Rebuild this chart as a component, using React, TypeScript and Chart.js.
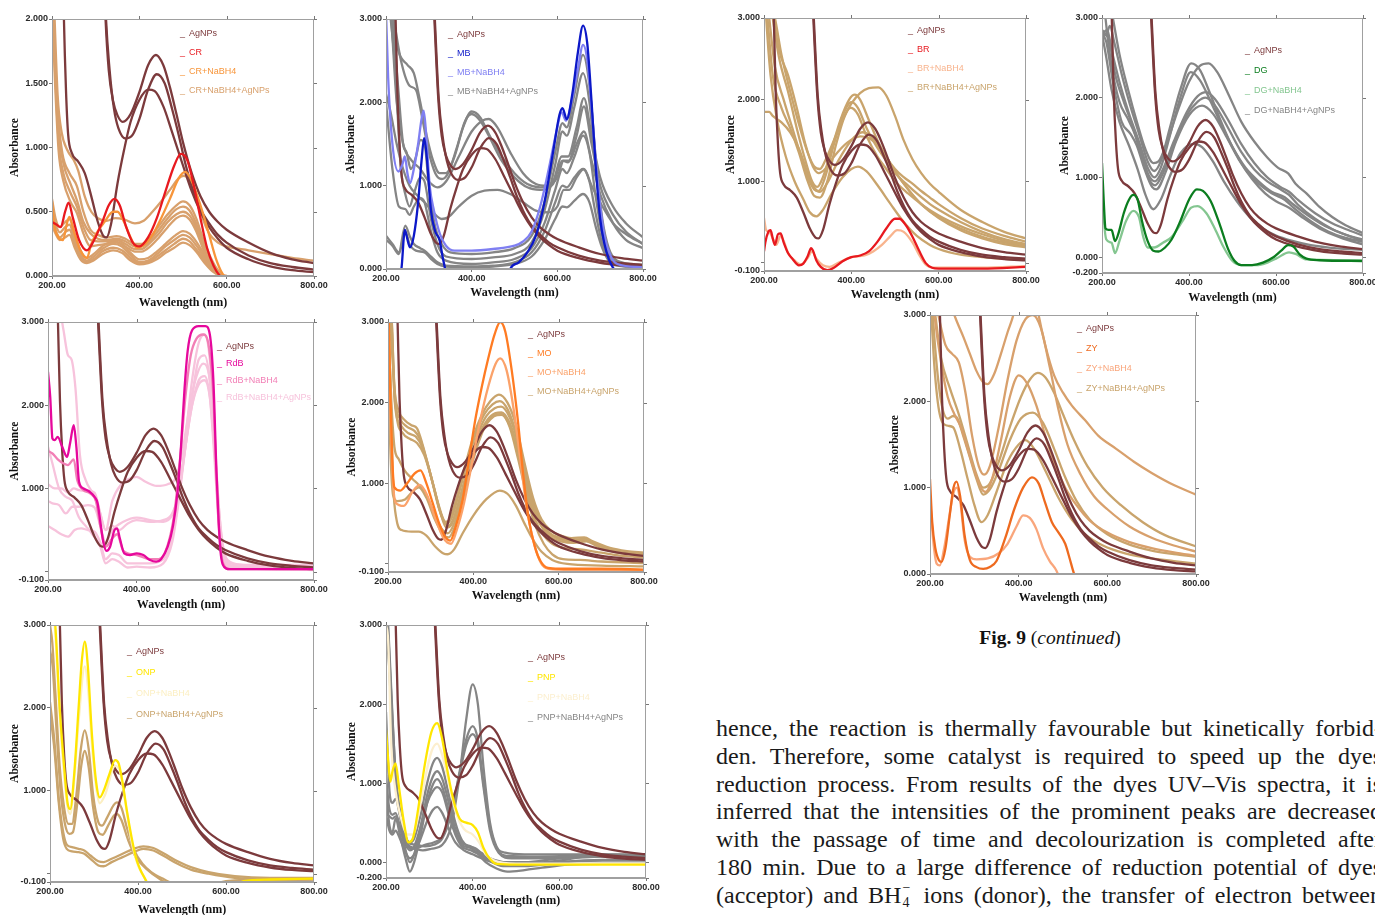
import React, { useEffect, useRef } from "react";
import { Chart, registerables } from "chart.js";

Chart.register(...registerables);

type Pt = [number, number];

const X_TICKS = [200, 400, 600, 800];

// ---------- AgNPs spectra (same three curves in every panel) ----------
const AGNP_1: Pt[] = [[305,4],[313,3],[322,2.05],[330,1.6],[340,1.36],[350,1.25],[362,1.2],[380,1.26],[400,1.43],[420,1.64],[438,1.72],[455,1.64],[470,1.47],[485,1.26],[500,1.04],[520,0.8],[540,0.62],[560,0.5],[580,0.42],[600,0.36],[650,0.26],[700,0.18],[750,0.13],[800,0.1]];
const AGNP_2: Pt[] = [[305,4],[314,3],[323,2.05],[332,1.6],[342,1.3],[352,1.15],[368,1.07],[385,1.1],[400,1.22],[420,1.45],[440,1.57],[458,1.5],[475,1.3],[490,1.1],[505,0.88],[520,0.7],[540,0.52],[560,0.41],[580,0.32],[600,0.26],[650,0.16],[700,0.1],[750,0.07],[800,0.05]];
const AGNP_3: Pt[] = [[200,4.5],[215,4.2],[222,3.1],[227,2.05],[232,1.45],[237,1.1],[245,0.96],[260,0.89],[275,0.8],[290,0.62],[305,0.42],[318,0.31],[325,0.3],[335,0.4],[350,0.72],[365,0.98],[380,1.2],[400,1.37],[420,1.45],[435,1.44],[455,1.32],[475,1.12],[500,0.86],[520,0.66],[540,0.5],[560,0.38],[580,0.29],[600,0.22],[650,0.13],[700,0.075],[750,0.045],[800,0.03]];

// ---------- CR ----------
const CR_DYE: Pt[] = [[200,0.42],[210,0.4],[220,0.38],[230,0.5],[238,0.57],[248,0.45],[262,0.28],[280,0.2],[295,0.27],[315,0.42],[330,0.55],[343,0.6],[355,0.55],[370,0.38],[385,0.26],[400,0.23],[420,0.3],[440,0.45],[460,0.66],[480,0.86],[495,0.95],[510,0.9],[525,0.7],[540,0.45],[555,0.22],[570,0.08],[585,0.0],[600,-0.02],[800,-0.02]];
const CR_NABH4: Pt[] = [[200,0.58],[205,0.4],[215,0.3],[225,0.28],[235,0.42],[240,0.46],[250,0.35],[265,0.2],[280,0.14],[290,0.25],[305,0.35],[320,0.42],[340,0.5],[350,0.5],[365,0.42],[380,0.3],[395,0.22],[410,0.24],[430,0.32],[450,0.45],[470,0.6],[490,0.76],[505,0.81],[520,0.74],[540,0.55],[560,0.32],[575,0.14],[590,0.02],[600,-0.02],[800,-0.02]];
const CR_MIX_1: Pt[] = [[200,2.6],[206,2.0],[213,1.4],[222,1.12],[235,0.98],[250,0.9],[260,0.82],[275,0.62],[290,0.5],[305,0.45],[325,0.43],[345,0.45],[365,0.44],[390,0.41],[410,0.43],[430,0.5],[450,0.58],[470,0.67],[490,0.76],[502,0.78],[515,0.75],[530,0.62],[545,0.45],[560,0.33],[580,0.26],[600,0.23],[650,0.2],[700,0.17],[750,0.14],[800,0.12]];
const CR_MIX_2: Pt[] = [[200,2.4],[206,1.8],[214,1.25],[224,0.95],[240,0.8],[257,0.7],[272,0.5],[288,0.36],[305,0.32],[325,0.3],[348,0.31],[368,0.29],[390,0.25],[405,0.25],[425,0.3],[445,0.39],[465,0.48],[485,0.55],[500,0.58],[515,0.55],[530,0.45],[545,0.3],[560,0.17],[575,0.07],[590,0.01],[610,-0.01],[800,-0.01]];
const CR_MIX_3: Pt[] = [[200,2.3],[207,1.7],[215,1.15],[226,0.88],[242,0.72],[257,0.59],[272,0.42],[288,0.33],[305,0.29],[325,0.28],[348,0.29],[368,0.27],[390,0.23],[405,0.23],[425,0.28],[445,0.36],[465,0.45],[485,0.52],[500,0.54],[515,0.51],[530,0.41],[545,0.27],[560,0.15],[575,0.06],[590,0.0],[800,-0.01]];
const CR_MIX_4: Pt[] = [[200,2.2],[207,1.6],[215,1.05],[226,0.8],[242,0.65],[257,0.54],[272,0.38],[288,0.28],[305,0.27],[325,0.27],[348,0.28],[368,0.25],[390,0.21],[405,0.21],[425,0.26],[445,0.33],[465,0.42],[485,0.48],[500,0.5],[515,0.47],[530,0.38],[545,0.25],[560,0.13],[575,0.05],[590,0.0],[800,-0.01]];
const CR_MIX_5: Pt[] = [[200,2.1],[207,1.5],[215,0.98],[226,0.74],[242,0.58],[257,0.49],[272,0.33],[288,0.23],[305,0.24],[325,0.25],[348,0.26],[368,0.23],[390,0.19],[405,0.19],[425,0.23],[445,0.3],[465,0.38],[485,0.45],[500,0.47],[515,0.44],[530,0.35],[545,0.22],[560,0.11],[575,0.04],[590,0.0],[800,-0.01]];
const CR_MIX_6: Pt[] = [[200,0.6],[208,0.45],[218,0.38],[230,0.42],[240,0.44],[252,0.32],[265,0.2],[280,0.14],[295,0.17],[315,0.23],[340,0.27],[360,0.25],[380,0.18],[400,0.13],[420,0.14],[440,0.19],[460,0.25],[480,0.31],[500,0.35],[515,0.33],[530,0.27],[550,0.16],[570,0.06],[590,0.0],[800,-0.01]];
const CR_MIX_7: Pt[] = [[200,0.5],[208,0.4],[218,0.34],[230,0.38],[240,0.4],[252,0.28],[265,0.17],[280,0.12],[295,0.15],[315,0.21],[340,0.25],[360,0.23],[380,0.16],[400,0.11],[420,0.12],[440,0.17],[460,0.23],[480,0.28],[500,0.32],[515,0.3],[530,0.24],[550,0.14],[570,0.05],[590,0.0],[800,-0.01]];
const CR_MIX_8: Pt[] = [[200,0.45],[208,0.36],[218,0.3],[230,0.34],[240,0.36],[252,0.25],[265,0.15],[280,0.11],[295,0.13],[315,0.19],[340,0.22],[360,0.2],[380,0.14],[400,0.1],[420,0.11],[440,0.15],[460,0.2],[480,0.25],[500,0.29],[515,0.27],[530,0.21],[550,0.12],[570,0.04],[590,0.0],[800,-0.01]];
const CR_MIX_9: Pt[] = [[200,0.4],[208,0.33],[218,0.28],[230,0.3],[240,0.32],[252,0.22],[265,0.13],[280,0.1],[295,0.12],[315,0.17],[340,0.2],[360,0.18],[380,0.12],[400,0.09],[420,0.1],[440,0.13],[460,0.18],[480,0.22],[500,0.26],[515,0.24],[530,0.19],[550,0.1],[570,0.03],[590,0.0],[800,-0.01]];

// ---------- MB ----------
const MB_DYE: Pt[] = [[200,-0.5],[230,-0.1],[236,0.0],[244,0.47],[248,0.4],[256,0.26],[265,0.4],[275,0.8],[283,1.3],[289,1.57],[295,1.35],[305,0.7],[315,0.45],[325,0.35],[332,0.15],[338,0.0],[345,-0.2],[480,-0.2],[490,0.0],[510,0.08],[530,0.2],[550,0.4],[570,0.8],[590,1.4],[605,1.85],[612,1.93],[622,1.8],[635,2.1],[648,2.6],[660,2.92],[670,2.7],[680,2.0],[690,1.2],[700,0.6],[710,0.3],[720,0.12],[732,0.0],[745,-0.1],[800,-0.1]];
const MB_NABH4: Pt[] = [[200,3.1],[205,2.3],[215,1.5],[229,1.17],[238,1.25],[244,1.35],[250,1.15],[256,1.03],[265,1.2],[275,1.5],[283,1.8],[288,1.9],[294,1.6],[302,1.0],[312,0.7],[326,0.42],[340,0.28],[360,0.22],[400,0.22],[450,0.24],[500,0.28],[520,0.33],[540,0.45],[560,0.75],[580,1.2],[598,1.65],[610,1.88],[620,1.78],[635,2.05],[648,2.4],[660,2.69],[670,2.5],[682,1.8],[695,1.0],[710,0.4],[725,0.15],[740,0.06],[800,0.02]];
const MB_MIX_1: Pt[] = [[200,3.5],[215,3.0],[230,2.6],[250,2.45],[265,2.35],[280,2.0],[295,1.6],[310,1.3],[325,1.15],[340,1.15],[360,1.35],[380,1.7],[400,1.89],[420,1.82],[440,1.62],[470,1.35],[500,1.15],[530,1.02],[560,0.98],[590,1.05],[610,1.35],[625,1.35],[645,1.7],[662,2.05],[680,1.6],[700,1.1],[730,0.75],[760,0.55],[800,0.38]];
const MB_MIX_2: Pt[] = [[200,3.5],[218,3.0],[235,2.5],[255,2.2],[270,2.15],[285,1.8],[300,1.4],[315,1.15],[330,1.08],[345,1.15],[365,1.45],[385,1.78],[400,1.86],[420,1.78],[440,1.6],[470,1.3],[500,1.1],[530,0.98],[560,0.95],[590,1.02],[612,1.3],[625,1.28],[645,1.6],[662,1.95],[680,1.5],[700,1.0],[730,0.65],[760,0.45],[800,0.3]];
const MB_MIX_3: Pt[] = [[200,3.5],[212,3.0],[225,2.0],[240,1.5],[260,1.3],[280,1.2],[300,1.05],[320,0.98],[340,1.05],[370,1.35],[400,1.65],[425,1.78],[440,1.8],[460,1.7],[490,1.4],[520,1.15],[550,1.02],[575,1.0],[600,1.1],[615,1.3],[628,1.3],[645,1.5],[662,1.65],[680,1.3],[700,0.9],[730,0.55],[760,0.35],[800,0.25]];
const MB_MIX_4: Pt[] = [[200,2.1],[210,1.9],[225,1.5],[240,1.2],[255,1.0],[270,0.9],[290,0.8],[310,0.68],[330,0.6],[345,0.62],[370,0.75],[400,0.88],[430,0.94],[460,0.95],[490,0.9],[520,0.8],[550,0.7],[580,0.68],[600,0.75],[615,0.95],[628,0.95],[645,1.1],[662,1.2],[680,1.0],[700,0.8],[730,0.55],[760,0.42],[800,0.3]];
const MB_MIX_5: Pt[] = [[200,3.5],[215,3.0],[228,2.2],[240,1.5],[248,1.4],[258,1.2],[270,1.35],[280,1.55],[290,1.5],[300,1.0],[315,0.5],[330,0.3],[350,0.2],[400,0.18],[450,0.2],[500,0.25],[540,0.4],[570,0.8],[595,1.4],[612,1.75],[622,1.7],[640,2.1],[660,2.57],[675,2.2],[690,1.3],[705,0.6],[720,0.25],[740,0.1],[800,0.05]];
const MB_MIX_6: Pt[] = [[200,3.5],[220,2.5],[235,1.2],[245,0.9],[255,0.75],[265,0.9],[280,1.1],[290,1.05],[305,0.6],[320,0.3],[340,0.15],[400,0.12],[450,0.14],[500,0.18],[540,0.32],[570,0.7],[595,1.25],[612,1.65],[622,1.6],[640,1.95],[660,2.35],[675,2.0],[690,1.2],[705,0.55],[720,0.2],[740,0.08],[800,0.03]];
const MB_MIX_7: Pt[] = [[200,2.0],[215,1.2],[230,0.75],[245,0.72],[255,0.65],[265,0.75],[280,0.85],[290,0.8],[305,0.45],[320,0.2],[340,0.1],[400,0.06],[450,0.08],[500,0.12],[540,0.25],[570,0.55],[595,0.95],[612,1.2],[622,1.15],[640,1.35],[660,1.6],[675,1.4],[690,0.85],[705,0.4],[720,0.15],[740,0.06],[800,0.02]];
const MB_MIX_8: Pt[] = [[200,0.4],[215,0.3],[230,0.2],[245,0.52],[255,0.4],[265,0.3],[280,0.25],[290,0.22],[305,0.15],[320,0.08],[340,0.04],[400,0.03],[450,0.04],[500,0.08],[540,0.2],[570,0.45],[595,0.8],[612,1.0],[622,0.98],[640,1.1],[660,1.2],[675,1.05],[690,0.65],[705,0.3],[720,0.12],[740,0.05],[800,0.02]];
const MB_MIX_9: Pt[] = [[200,0.35],[215,0.28],[230,0.18],[245,0.45],[255,0.3],[270,0.22],[290,0.2],[305,0.12],[320,0.06],[340,0.03],[400,0.02],[450,0.03],[500,0.06],[540,0.15],[570,0.35],[595,0.6],[612,0.75],[622,0.74],[640,0.82],[660,0.9],[675,0.8],[690,0.5],[705,0.25],[720,0.1],[740,0.04],[800,0.02]];

// ---------- BR ----------
const BR_DYE: Pt[] = [[200,0.14],[203,0.25],[210,0.38],[215,0.4],[220,0.3],[225,0.22],[232,0.35],[238,0.36],[245,0.25],[255,0.12],[265,0.05],[280,-0.03],[290,-0.01],[300,0.08],[308,0.18],[312,0.15],[320,0.03],[330,-0.05],[345,-0.09],[360,-0.06],[380,0.02],[400,0.07],[420,0.09],[440,0.14],[460,0.26],[480,0.42],[500,0.54],[510,0.54],[525,0.46],[540,0.32],[555,0.15],[570,0.0],[585,-0.06],[600,-0.07],[700,-0.07],[800,-0.05]];
const BR_NABH4: Pt[] = [[200,0.55],[205,0.4],[212,0.38],[220,0.3],[228,0.22],[238,0.33],[245,0.27],[255,0.12],[270,0.03],[285,-0.02],[300,0.06],[310,0.14],[320,0.05],[335,-0.03],[350,-0.05],[370,0.0],[400,0.07],[430,0.09],[450,0.14],[470,0.22],[490,0.33],[505,0.4],[520,0.38],[540,0.25],[555,0.1],[570,-0.02],[590,-0.06],[700,-0.06],[800,-0.04]];
const BR_MIX_1: Pt[] = [[200,4],[215,3.2],[225,3.0],[240,2.55],[260,2.1],[280,1.7],[300,1.35],[315,1.18],[328,1.15],[340,1.25],[360,1.5],[380,1.75],[400,1.95],[420,2.08],[440,2.14],[462,2.15],[480,2.05],[500,1.8],[520,1.5],[540,1.27],[560,1.1],[580,0.97],[600,0.87],[650,0.65],[700,0.5],[750,0.38],[800,0.3]];
const BR_MIX_2: Pt[] = [[200,4],[210,3.4],[220,3.0],[235,2.5],[255,2.1],[275,1.65],[295,1.25],[310,1.0],[322,0.93],[335,1.05],[355,1.4],[375,1.75],[395,2.0],[408,2.06],[420,2.0],[440,1.75],[460,1.5],[480,1.3],[500,1.15],[520,1.05],[540,0.97],[560,0.88],[580,0.8],[600,0.72],[650,0.55],[700,0.42],[750,0.33],[800,0.26]];
const BR_MIX_3: Pt[] = [[200,3.6],[212,3.0],[225,2.4],[245,2.0],[265,1.65],[285,1.3],[300,1.05],[315,0.9],[325,0.88],[340,1.05],[360,1.45],[380,1.8],[400,1.97],[415,1.9],[435,1.65],[455,1.45],[480,1.25],[500,1.1],[525,0.97],[550,0.85],[580,0.72],[600,0.65],[650,0.5],[700,0.38],[750,0.29],[800,0.23]];
const BR_MIX_4: Pt[] = [[200,3.5],[208,3.0],[220,2.3],[240,1.9],[260,1.65],[280,1.35],[300,1.0],[315,0.82],[328,0.8],[345,1.0],[365,1.45],[385,1.8],[398,1.9],[415,1.82],[435,1.55],[460,1.3],[480,1.15],[500,1.0],[530,0.85],[560,0.72],[600,0.58],[650,0.45],[700,0.35],[750,0.27],[800,0.21]];
const BR_MIX_5: Pt[] = [[200,1.85],[212,1.85],[220,1.8],[240,1.72],[260,1.6],[280,1.4],[300,1.1],[315,0.92],[328,0.87],[345,0.98],[370,1.25],[400,1.5],[425,1.6],[445,1.55],[470,1.38],[500,1.12],[530,0.9],[560,0.72],[600,0.55],[650,0.4],[700,0.3],[750,0.23],[800,0.19]];
const BR_MIX_6: Pt[] = [[200,4],[222,3.0],[235,2.6],[255,2.3],[275,1.9],[295,1.45],[312,1.18],[325,1.1],[340,1.15],[360,1.3],[390,1.47],[420,1.55],[440,1.53],[470,1.38],[500,1.12],[530,0.9],[560,0.72],[600,0.56],[650,0.42],[700,0.32],[750,0.25],[800,0.2]];
const BR_MIX_7: Pt[] = [[200,3.5],[205,3.0],[215,2.3],[230,1.75],[250,1.3],[270,1.0],[290,0.78],[305,0.62],[320,0.57],[335,0.65],[355,0.85],[380,1.05],[400,1.15],[415,1.18],[435,1.12],[460,0.95],[490,0.72],[520,0.5],[550,0.33],[580,0.22],[600,0.17],[650,0.1],[700,0.07],[750,0.05],[800,0.04]];

// ---------- DG ----------
const DG_DYE: Pt[] = [[200,1.18],[204,0.7],[208,0.36],[215,0.34],[222,0.34],[230,0.2],[238,0.3],[250,0.55],[262,0.72],[272,0.78],[282,0.72],[292,0.45],[305,0.2],[318,0.08],[330,0.07],[345,0.12],[360,0.22],[380,0.45],[400,0.72],[418,0.85],[432,0.83],[450,0.7],[470,0.42],[490,0.1],[505,-0.05],[520,-0.1],[545,-0.1],[570,-0.07],[595,0.0],[612,0.08],[628,0.15],[640,0.13],[655,0.03],[670,-0.02],[700,-0.04],[800,-0.05]];
const DG_NABH4: Pt[] = [[200,0.95],[204,0.5],[210,0.22],[222,0.18],[230,0.05],[240,0.2],[255,0.45],[272,0.58],[285,0.5],[295,0.25],[305,0.12],[320,0.12],[340,0.18],[360,0.25],[385,0.45],[405,0.62],[420,0.64],[440,0.55],[460,0.35],[480,0.12],[500,-0.05],[520,-0.1],[560,-0.1],[600,-0.02],[630,0.06],[645,0.04],[670,-0.03],[800,-0.04]];
const DG_MIX_1: Pt[] = [[200,4],[215,3.3],[225,3.0],[240,2.55],[260,2.1],[280,1.7],[300,1.35],[318,1.18],[330,1.2],[350,1.45],[375,1.85],[400,2.2],[425,2.4],[445,2.43],[465,2.32],[490,2.05],[520,1.7],[550,1.45],[580,1.25],[605,1.12],[628,1.05],[645,0.92],[670,0.8],[700,0.63],[730,0.5],[760,0.4],[800,0.3]];
const DG_MIX_2: Pt[] = [[200,2.85],[210,2.8],[218,2.9],[228,2.7],[245,2.3],[265,1.9],[285,1.55],[305,1.2],[320,1.08],[335,1.2],[355,1.6],[380,2.1],[405,2.43],[425,2.35],[445,2.1],[470,1.75],[500,1.38],[530,1.1],[560,0.92],[590,0.8],[620,0.72],[640,0.62],[680,0.45],[720,0.32],[760,0.24],[800,0.19]];
const DG_MIX_3: Pt[] = [[200,2.8],[212,2.85],[222,2.6],[240,2.2],[262,1.8],[285,1.45],[305,1.12],[320,1.0],[335,1.12],[355,1.5],[380,2.0],[404,2.32],[425,2.22],[450,1.95],[475,1.65],[500,1.38],[530,1.12],[560,0.95],[590,0.82],[620,0.75],[640,0.66],[680,0.5],[720,0.37],[760,0.28],[800,0.22]];
const DG_MIX_4: Pt[] = [[200,2.8],[215,2.75],[230,2.3],[250,1.95],[270,1.65],[290,1.3],[308,1.02],[322,0.95],[340,1.1],[365,1.45],[395,1.82],[420,2.02],[440,2.07],[460,1.98],[490,1.72],[520,1.42],[550,1.18],[580,1.0],[610,0.88],[630,0.82],[650,0.72],[690,0.55],[730,0.42],[770,0.33],[800,0.27]];
const DG_MIX_5: Pt[] = [[200,3.5],[208,3.0],[222,2.4],[240,1.95],[258,1.75],[275,1.55],[292,1.25],[308,0.98],[322,0.9],[340,1.05],[365,1.4],[395,1.78],[420,1.95],[438,2.0],[460,1.9],[490,1.62],[520,1.32],[550,1.1],[580,0.95],[610,0.85],[630,0.78],[650,0.66],[690,0.48],[730,0.35],[770,0.26],[800,0.2]];
const DG_MIX_6: Pt[] = [[200,2.8],[210,2.7],[225,2.2],[245,1.7],[265,1.55],[280,1.4],[298,1.1],[315,0.88],[325,0.85],[345,1.05],[370,1.45],[400,1.78],[430,1.9],[455,1.8],[485,1.52],[515,1.22],[545,0.98],[575,0.8],[600,0.7],[630,0.62],[660,0.5],[700,0.36],[750,0.24],[800,0.16]];
const DG_MIX_7: Pt[] = [[200,2.8],[210,2.5],[222,2.1],[240,1.7],[262,1.4],[282,1.1],[300,0.78],[318,0.6],[335,0.72],[355,1.0],[380,1.3],[410,1.42],[430,1.38],[455,1.2],[480,0.95],[510,0.7],[540,0.5],[570,0.36],[600,0.27],[640,0.2],[680,0.15],[740,0.11],[800,0.09]];

// ---------- RdB ----------
const RDB_DYE: Pt[] = [[200,2.4],[205,2.1],[210,1.6],[215,1.58],[222,1.62],[232,1.5],[243,1.38],[250,1.55],[258,1.76],[264,1.5],[270,1.08],[280,1.0],[294,0.96],[305,0.9],[312,0.82],[318,0.6],[325,0.35],[332,0.25],[340,0.3],[350,0.5],[356,0.52],[362,0.4],[372,0.22],[385,0.2],[400,0.22],[415,0.2],[430,0.14],[444,0.12],[455,0.15],[470,0.3],[482,0.55],[492,0.95],[500,1.5],[508,2.2],[515,2.65],[525,2.9],[540,2.95],[555,2.95],[565,2.85],[573,2.3],[580,1.2],[585,0.6],[590,0.2],[597,0.06],[610,0.03],[700,0.03],[800,0.03]];
const RDB_NABH4: Pt[] = [[200,1.45],[210,1.42],[222,1.35],[235,1.3],[245,1.28],[258,1.35],[266,1.1],[280,0.98],[295,0.94],[308,0.85],[318,0.55],[330,0.3],[345,0.4],[356,0.45],[370,0.25],[400,0.2],[430,0.15],[450,0.15],[470,0.32],[485,0.7],[497,1.3],[510,2.1],[522,2.6],[535,2.8],[550,2.85],[563,2.7],[573,2.1],[580,1.1],[587,0.4],[595,0.1],[610,0.03],[800,0.03]];
const RDB_MIX_1: Pt[] = [[200,3.5],[225,3.2],[235,2.9],[245,2.6],[253,2.55],[262,2.2],[272,1.4],[285,1.1],[300,0.95],[315,0.75],[330,0.5],[345,0.55],[360,0.5],[380,0.58],[400,0.62],[430,0.6],[460,0.62],[480,0.7],[495,0.95],[510,1.5],[525,2.1],[540,2.55],[553,2.6],[565,2.3],[575,1.6],[585,0.8],[595,0.3],[610,0.12],[650,0.08],[700,0.08],[800,0.08]];
const RDB_MIX_2: Pt[] = [[200,1.05],[215,1.0],[230,1.0],[245,0.95],[258,1.0],[270,0.98],[290,0.97],[305,0.95],[318,0.7],[330,0.5],[345,0.85],[365,1.05],[385,1.12],[400,1.14],[420,1.08],[445,1.03],[470,1.05],[490,1.15],[505,1.5],[520,2.0],[535,2.35],[550,2.5],[565,2.3],[575,1.6],[585,0.7],[595,0.25],[610,0.1],[700,0.07],[800,0.06]];
const RDB_MIX_3: Pt[] = [[200,0.85],[210,0.82],[225,0.8],[240,0.7],[255,0.78],[270,0.78],[290,0.8],[305,0.77],[318,0.55],[330,0.35],[345,0.5],[370,0.6],[400,0.65],[430,0.62],[460,0.6],[480,0.68],[495,0.95],[510,1.5],[525,2.0],[540,2.3],[553,2.35],[565,2.1],[575,1.4],[585,0.6],[595,0.2],[610,0.08],[700,0.05],[800,0.05]];
const RDB_MIX_4: Pt[] = [[200,0.55],[215,0.5],[230,0.45],[245,0.42],[260,0.5],[275,0.52],[290,0.5],[305,0.48],[318,0.35],[330,0.15],[345,0.22],[360,0.2],[380,0.1],[400,0.1],[430,0.1],[460,0.15],[480,0.4],[495,0.9],[510,1.6],[525,2.3],[540,2.75],[553,2.85],[565,2.55],[575,1.7],[585,0.8],[595,0.25],[610,0.06],[700,0.03],[800,0.02]];
const RDB_MIX_5: Pt[] = [[200,1.5],[210,1.3],[225,1.0],[240,0.9],[255,0.85],[270,0.65],[285,0.55],[300,0.45],[318,0.3],[330,0.1],[345,0.15],[360,0.12],[380,0.05],[400,0.06],[430,0.05],[460,0.1],[480,0.35],[495,0.85],[510,1.5],[525,2.0],[540,2.25],[553,2.3],[565,2.1],[575,1.5],[585,0.7],[595,0.2],[610,0.05],[800,0.03]];

// ---------- MO ----------
const MO_DYE: Pt[] = [[200,3.5],[205,2.2],[210,1.3],[215,0.95],[229,0.91],[245,1.0],[262,1.12],[276,1.16],[290,1.0],[305,0.75],[320,0.5],[335,0.33],[346,0.29],[358,0.45],[375,0.8],[390,1.3],[405,1.8],[420,2.2],[435,2.55],[450,2.85],[463,3.0],[475,2.88],[490,2.4],[505,1.75],[517,1.1],[530,0.55],[545,0.2],[558,0.03],[575,-0.05],[600,-0.06],[700,-0.06],[800,-0.07]];
const MO_NABH4: Pt[] = [[200,3.5],[206,1.8],[212,1.0],[218,0.76],[237,0.72],[258,0.9],[275,0.98],[292,0.85],[310,0.58],[330,0.32],[348,0.25],[360,0.4],[378,0.75],[395,1.2],[415,1.75],[435,2.2],[452,2.48],[463,2.55],[478,2.4],[495,1.9],[510,1.3],[525,0.7],[540,0.3],[555,0.05],[570,-0.05],[600,-0.07],[800,-0.08]];
const MO_MIX_1: Pt[] = [[200,3.5],[207,3.2],[215,2.2],[225,1.9],[240,1.78],[255,1.72],[268,1.68],[280,1.5],[300,1.1],[320,0.68],[335,0.52],[345,0.56],[360,0.8],[380,1.2],[400,1.58],[420,1.85],[440,2.02],[460,2.1],[480,2.0],[500,1.72],[520,1.25],[540,0.82],[560,0.55],[580,0.42],[600,0.36],[630,0.32],[660,0.33],[680,0.28],[720,0.2],[760,0.16],[800,0.14]];
const MO_MIX_2: Pt[] = [[200,3.5],[208,3.0],[215,2.1],[228,1.8],[245,1.7],[262,1.65],[275,1.55],[290,1.3],[310,0.9],[325,0.6],[337,0.5],[350,0.58],[365,0.85],[385,1.25],[405,1.6],[425,1.85],[445,1.98],[462,2.02],[480,1.92],[500,1.62],[520,1.15],[540,0.75],[560,0.5],[580,0.38],[600,0.33],[630,0.3],[660,0.31],[680,0.26],[720,0.18],[760,0.14],[800,0.12]];
const MO_MIX_3: Pt[] = [[200,3.5],[209,3.0],[216,2.0],[230,1.72],[248,1.62],[265,1.58],[280,1.45],[295,1.2],[315,0.8],[330,0.55],[340,0.47],[355,0.58],[370,0.85],[390,1.25],[410,1.6],[430,1.83],[450,1.93],[465,1.95],[485,1.82],[505,1.5],[525,1.05],[545,0.68],[565,0.45],[585,0.35],[600,0.31],[630,0.28],[665,0.3],[690,0.24],[730,0.17],[770,0.13],[800,0.11]];
const MO_MIX_4: Pt[] = [[200,3.3],[210,2.6],[220,1.85],[235,1.62],[252,1.55],[268,1.5],[285,1.35],[305,1.0],[322,0.65],[337,0.45],[350,0.5],[368,0.8],[390,1.2],[410,1.55],[432,1.78],[452,1.87],[466,1.88],[485,1.75],[505,1.42],[525,0.98],[545,0.62],[565,0.42],[585,0.32],[605,0.28],[635,0.26],[665,0.28],[690,0.22],[730,0.15],[770,0.12],[800,0.1]];
const MO_MIX_5: Pt[] = [[200,3.0],[208,2.0],[215,1.45],[225,1.3],[240,1.15],[258,1.05],[272,0.98],[290,0.85],[310,0.6],[328,0.42],[340,0.38],[355,0.5],[375,0.85],[400,1.35],[425,1.7],[450,1.84],[466,1.85],[485,1.72],[505,1.38],[525,0.92],[545,0.55],[565,0.35],[585,0.25],[610,0.2],[650,0.18],[700,0.14],[750,0.1],[800,0.08]];
const MO_MIX_6: Pt[] = [[200,2.6],[205,1.5],[212,0.85],[222,0.78],[240,0.8],[258,0.9],[272,0.95],[290,0.82],[310,0.55],[330,0.36],[342,0.33],[358,0.48],[378,0.85],[400,1.3],[425,1.68],[448,1.83],[465,1.86],[485,1.7],[505,1.3],[525,0.85],[545,0.48],[565,0.25],[585,0.12],[610,0.06],[650,0.05],[700,0.03],[800,0.01]];
const MO_MIX_7: Pt[] = [[200,3.5],[205,2.4],[212,1.0],[220,0.55],[232,0.42],[255,0.4],[272,0.4],[290,0.35],[310,0.22],[330,0.13],[340,0.12],[355,0.18],[375,0.38],[400,0.6],[430,0.8],[462,0.91],[480,0.87],[500,0.72],[520,0.5],[540,0.3],[560,0.15],[585,0.05],[620,0.0],[700,-0.02],[800,-0.03]];

// ---------- ZY ----------
const ZY_DYE: Pt[] = [[200,1.1],[205,0.6],[212,0.3],[220,0.16],[226,0.14],[235,0.3],[245,0.7],[253,1.0],[260,1.07],[268,0.9],[278,0.45],[290,0.16],[305,0.08],[320,0.06],[335,0.08],[350,0.15],[370,0.42],[390,0.75],[410,1.0],[430,1.12],[445,1.05],[460,0.82],[475,0.6],[490,0.48],[505,0.35],[515,0.18],[522,0.05],[528,-0.05],[535,-0.2]];
const ZY_NABH4: Pt[] = [[200,0.9],[207,0.4],[215,0.12],[222,0.1],[232,0.3],[243,0.65],[252,0.92],[260,1.0],[268,0.85],[278,0.4],[290,0.2],[305,0.17],[330,0.18],[355,0.24],[375,0.35],[395,0.55],[410,0.68],[425,0.65],[440,0.52],[455,0.3],[470,0.15],[485,0.04],[492,-0.05],[500,-0.2]];
const ZY_MIX_1: Pt[] = [[200,3.5],[225,3.5],[255,3.0],[275,2.75],[290,2.55],[305,2.35],[320,2.22],[330,2.2],[345,2.32],[360,2.55],[375,2.8],[388,3.0],[400,3.3],[420,3.5],[435,3.3],[445,3.0],[460,2.65],[480,2.3],[500,2.1],[520,1.95],[550,1.78],[580,1.6],[620,1.45],[660,1.3],[700,1.17],[750,1.03],[800,0.92]];
const ZY_MIX_2: Pt[] = [[200,3.5],[215,3.1],[235,2.65],[250,2.55],[265,2.45],[280,2.1],[295,1.6],[310,1.25],[322,1.15],[335,1.25],[355,1.7],[375,2.25],[395,2.7],[415,2.95],[432,3.0],[450,2.85],[470,2.4],[490,1.9],[510,1.5],[540,1.15],[570,0.9],[600,0.75],[650,0.55],[700,0.42],[750,0.33],[800,0.26]];
const ZY_MIX_3: Pt[] = [[200,3.5],[212,3.0],[225,2.5],[245,2.15],[265,1.85],[285,1.5],[305,1.15],[320,1.0],[335,1.05],[355,1.3],[380,1.7],[405,2.05],[425,2.25],[443,2.33],[460,2.28],[480,2.1],[500,1.85],[525,1.55],[555,1.25],[590,1.0],[630,0.8],[680,0.6],[730,0.45],[800,0.32]];
const ZY_MIX_4: Pt[] = [[200,3.5],[210,3.0],[225,2.45],[240,2.05],[255,1.85],[270,1.7],[285,1.45],[300,1.2],[315,1.0],[325,0.95],[340,1.1],[360,1.55],[380,2.05],[400,2.3],[420,2.2],[440,1.95],[460,1.6],[480,1.3],[505,1.0],[530,0.8],[560,0.62],[600,0.48],[650,0.37],[700,0.3],[750,0.25],[800,0.21]];
const ZY_MIX_5: Pt[] = [[200,3.5],[212,2.6],[225,2.0],[240,1.8],[252,1.83],[262,1.8],[275,1.6],[290,1.35],[305,1.1],[320,0.92],[335,0.98],[355,1.2],[380,1.55],[405,1.8],[432,1.87],[455,1.75],[480,1.45],[505,1.12],[530,0.85],[560,0.63],[600,0.46],[650,0.34],[700,0.27],[750,0.23],[800,0.2]];
const ZY_MIX_6: Pt[] = [[200,3.3],[210,2.4],[222,1.85],[238,1.72],[252,1.7],[268,1.45],[285,1.1],[300,0.8],[316,0.6],[330,0.68],[350,0.95],[375,1.3],[400,1.5],[415,1.55],[435,1.45],[460,1.2],[490,0.88],[520,0.63],[550,0.46],[590,0.33],[640,0.24],[700,0.18],[750,0.15],[800,0.12]];

// ---------- ONP ----------
const ONP_DYE: Pt[] = [[200,3.5],[212,3.0],[222,2.0],[232,1.3],[240,0.85],[246,0.78],[255,1.2],[265,2.0],[272,2.55],[279,2.8],[286,2.5],[295,1.7],[305,1.1],[313,0.92],[322,1.0],[335,1.2],[348,1.37],[356,1.33],[365,1.1],[375,0.75],[385,0.45],[395,0.2],[405,0.05],[418,-0.08],[430,-0.2],[600,-0.2],[640,-0.09],[700,-0.07],[800,-0.06]];
const ONP_NABH4: Pt[] = [[200,3.5],[212,2.9],[222,1.9],[232,1.2],[240,0.8],[246,0.72],[256,1.2],[266,1.9],[279,2.5],[287,2.2],[296,1.5],[306,1.0],[313,0.85],[325,0.95],[348,1.3],[358,1.25],[370,0.9],[385,0.4],[400,0.1],[415,-0.05],[425,-0.2]];
const ONP_MIX_1: Pt[] = [[200,3.0],[205,2.8],[212,2.2],[222,1.3],[232,0.8],[242,0.6],[250,0.6],[260,0.95],[270,1.5],[279,1.73],[288,1.5],[298,0.95],[310,0.62],[318,0.58],[330,0.68],[345,0.83],[352,0.86],[362,0.8],[375,0.55],[390,0.3],[410,0.12],[430,0.02],[460,-0.07],[480,-0.12],[550,-0.15],[600,-0.09],[700,-0.07],[800,-0.06]];
const ONP_MIX_2: Pt[] = [[200,2.7],[206,2.5],[214,1.8],[224,1.0],[234,0.6],[244,0.48],[252,0.5],[262,0.85],[271,1.3],[279,1.48],[288,1.28],[298,0.8],[310,0.5],[320,0.47],[332,0.58],[345,0.7],[352,0.72],[362,0.65],[378,0.4],[395,0.2],[415,0.08],[440,-0.03],[460,-0.1],[480,-0.15],[560,-0.15],[610,-0.09],[700,-0.08],[800,-0.07]];
const ONP_MIX_3: Pt[] = [[200,2.07],[210,1.6],[220,0.9],[230,0.5],[238,0.35],[250,0.32],[265,0.3],[278,0.28],[292,0.22],[310,0.15],[322,0.14],[340,0.18],[365,0.24],[390,0.3],[412,0.33],[435,0.31],[460,0.24],[490,0.15],[520,0.08],[560,0.02],[620,-0.03],[700,-0.05],[800,-0.05]];
const ONP_MIX_4: Pt[] = [[200,1.95],[210,1.5],[220,0.85],[230,0.42],[238,0.3],[250,0.27],[265,0.26],[278,0.24],[292,0.18],[310,0.1],[322,0.09],[340,0.14],[365,0.2],[390,0.26],[412,0.3],[435,0.28],[460,0.21],[490,0.12],[520,0.05],[560,0.0],[620,-0.05],[700,-0.07],[800,-0.07]];

// ---------- PNP ----------
const PNP_DYE: Pt[] = [[200,1.67],[205,1.3],[210,1.02],[215,1.15],[222,1.25],[230,0.95],[240,0.55],[252,0.25],[262,0.3],[275,0.7],[290,1.25],[305,1.65],[318,1.76],[330,1.55],[342,1.15],[355,0.8],[370,0.55],[385,0.5],[400,0.47],[412,0.38],[425,0.18],[440,0.04],[455,-0.02],[500,-0.03],[600,-0.03],[800,-0.03]];
const PNP_NABH4: Pt[] = [[200,3.0],[205,2.8],[212,1.5],[222,0.9],[235,0.55],[250,0.35],[262,0.35],[275,0.6],[290,1.05],[305,1.4],[318,1.5],[330,1.35],[345,1.0],[360,0.65],[380,0.42],[400,0.35],[415,0.25],[430,0.1],[450,0.02],[500,-0.02],[800,-0.02]];
const PNP_MIX_1: Pt[] = [[200,3.5],[205,3.0],[212,2.2],[222,1.1],[235,0.5],[250,0.2],[265,0.17],[285,0.15],[305,0.17],[330,0.22],[350,0.45],[370,1.1],[385,1.8],[400,2.25],[412,2.0],[425,1.2],[440,0.5],[455,0.2],[475,0.12],[520,0.1],[600,0.1],[700,0.1],[800,0.08]];
const PNP_MIX_2: Pt[] = [[200,3.4],[206,2.8],[214,1.9],[224,1.0],[238,0.5],[252,0.25],[268,0.22],[290,0.2],[310,0.22],[330,0.3],[350,0.6],[370,1.15],[385,1.55],[400,1.72],[412,1.55],[425,1.0],[440,0.45],[458,0.15],[480,0.08],[550,0.07],[650,0.08],[800,0.07]];
const PNP_MIX_3: Pt[] = [[200,2.9],[207,2.5],[215,1.6],[225,0.9],[240,0.4],[255,0.2],[270,0.18],[290,0.22],[310,0.25],[330,0.32],[350,0.62],[370,1.12],[385,1.48],[400,1.62],[412,1.48],[425,0.95],[440,0.4],[460,0.12],[490,0.05],[600,0.05],[700,0.07],[800,0.06]];
const PNP_MIX_4: Pt[] = [[200,1.9],[208,0.9],[215,0.75],[222,0.8],[232,0.6],[243,0.35],[255,0.25],[265,0.3],[280,0.6],[295,1.0],[308,1.25],[318,1.32],[330,1.2],[345,0.85],[360,0.5],[375,0.28],[390,0.2],[405,0.18],[420,0.12],[440,0.05],[470,0.0],[520,-0.02],[600,0.0],[700,0.02],[800,0.02]];
const PNP_MIX_5: Pt[] = [[200,1.1],[207,0.7],[215,0.6],[222,0.62],[232,0.45],[243,0.2],[255,0.0],[265,0.1],[280,0.45],[295,0.85],[308,1.08],[318,1.15],[330,1.05],[345,0.75],[360,0.42],[375,0.25],[395,0.2],[410,0.15],[425,0.08],[445,0.0],[470,-0.05],[520,-0.05],[600,0.0],[700,0.03],[800,0.03]];
const PNP_MIX_6: Pt[] = [[200,1.0],[207,0.5],[215,0.38],[222,0.55],[232,0.35],[245,0.05],[255,-0.12],[265,0.0],[280,0.35],[295,0.75],[308,0.98],[318,1.05],[330,0.95],[345,0.65],[360,0.38],[375,0.22],[395,0.18],[410,0.12],[430,0.0],[455,-0.08],[480,-0.12],[520,-0.1],[560,-0.07],[620,-0.03],[700,-0.02],[800,-0.02]];
const PNP_MIX_7: Pt[] = [[200,0.62],[208,0.58],[215,0.55],[222,0.58],[232,0.45],[243,0.25],[255,0.15],[265,0.2],[280,0.45],[295,0.75],[308,0.9],[318,0.95],[330,0.88],[345,0.6],[360,0.35],[375,0.2],[395,0.15],[415,0.1],[435,0.03],[460,0.0],[520,0.0],[600,0.05],[700,0.07],[800,0.06]];
const PNP_MIX_8: Pt[] = [[200,0.6],[208,0.4],[215,0.35],[222,0.4],[232,0.3],[243,0.15],[255,0.05],[265,0.1],[280,0.3],[295,0.52],[308,0.66],[318,0.7],[330,0.62],[345,0.42],[360,0.25],[380,0.15],[400,0.1],[420,0.05],[445,0.0],[480,-0.02],[600,0.02],[700,0.1],[800,0.1]];

// ---------- colours ----------
const C_AG = "#7c3a3c";
const C_TAN = "#c9a46c";
const C_TAN2 = "#d8a06c";
const C_GRAY = "#858585";
const C_RED = "#e8191f";

// ---------- page text ----------
const TEXT_LINES = [
  "hence, the reaction is thermally favourable but kinetically forbid-",
  "den. Therefore, some catalyst is required to speed up the dyes",
  "reduction process. From results of the dyes UV\u2013Vis spectra, it is",
  "inferred that the intensities of the prominent peaks are decreased",
  "with the passage of time and decolourization is completed after",
  "180 min. Due to a large difference of reduction potential of dyes",
];
const LAST_LINE_A = "(acceptor) and BH";
const LAST_LINE_B = " ions (donor), the transfer of electron between";

type Series = { pts: Pt[]; color: string };
type PanelSpec = {
  key: string;
  box: [number, number, number, number];
  yMin: number;
  yMax: number;
  yTicks: number[];
  hideLabels: number[];
  dTitle: number;
  eTitle: number;
  legend: { dx: number; dy: number; step: number; items: [string, string][] };
  series: Series[];
};

const mix = (list: Pt[][], color: string): Series[] => list.map((pts) => ({ pts, color }));
const agnps = (): Series[] => [AGNP_1, AGNP_2, AGNP_3].map((pts) => ({ pts, color: C_AG }));

const PANELS: PanelSpec[] = [
  {
    key: "CR", box: [52, 19, 262, 257], yMin: 0, yMax: 2, yTicks: [0, 0.5, 1, 1.5, 2], hideLabels: [],
    dTitle: 37, eTitle: 27,
    legend: { dx: 128, dy: 15, step: 19, items: [["AgNPs", C_AG], ["CR", C_RED], ["CR+NaBH4", "#f7953a"], ["CR+NaBH4+AgNPs", C_TAN2]] },
    series: [{ pts: CR_DYE, color: C_RED }, { pts: CR_NABH4, color: "#f7953a" }, ...agnps(),
      ...mix([CR_MIX_1, CR_MIX_2, CR_MIX_3, CR_MIX_4, CR_MIX_5, CR_MIX_6, CR_MIX_7, CR_MIX_8, CR_MIX_9], C_TAN2)],
  },
  {
    key: "MB", box: [386, 19, 257, 250], yMin: 0, yMax: 3, yTicks: [0, 1, 2, 3], hideLabels: [],
    dTitle: 35, eTitle: 24,
    legend: { dx: 62, dy: 16, step: 19, items: [["AgNPs", C_AG], ["MB", "#0c18c8"], ["MB+NaBH4", "#7f7ff2"], ["MB+NaBH4+AgNPs", C_GRAY]] },
    series: [{ pts: MB_DYE, color: "#0c18c8" }, { pts: MB_NABH4, color: "#7f7ff2" }, ...agnps(),
      ...mix([MB_MIX_1, MB_MIX_2, MB_MIX_3, MB_MIX_4, MB_MIX_5, MB_MIX_6, MB_MIX_7, MB_MIX_8, MB_MIX_9], C_GRAY)],
  },
  {
    key: "BR", box: [764, 18, 262, 253], yMin: -0.1, yMax: 3, yTicks: [-0.1, 0, 1, 2, 3], hideLabels: [0],
    dTitle: 33, eTitle: 24,
    legend: { dx: 144, dy: 13, step: 19, items: [["AgNPs", C_AG], ["BR", C_RED], ["BR+NaBH4", "#f8b48e"], ["BR+NaBH4+AgNPs", C_TAN]] },
    series: [{ pts: BR_DYE, color: C_RED }, { pts: BR_NABH4, color: "#f8b48e" }, ...agnps(),
      ...mix([BR_MIX_1, BR_MIX_2, BR_MIX_3, BR_MIX_4, BR_MIX_5, BR_MIX_6, BR_MIX_7], C_TAN)],
  },
  {
    key: "DG", box: [1102, 18, 261, 255], yMin: -0.2, yMax: 3, yTicks: [-0.2, 0, 1, 2, 3], hideLabels: [],
    dTitle: 37, eTitle: 25,
    legend: { dx: 143, dy: 33, step: 20, items: [["AgNPs", C_AG], ["DG", "#0b7d1f"], ["DG+NaBH4", "#84c690"], ["DG+NaBH4+AgNPs", C_GRAY]] },
    series: [{ pts: DG_DYE, color: "#0b7d1f" }, { pts: DG_NABH4, color: "#84c690" }, ...agnps(),
      ...mix([DG_MIX_1, DG_MIX_2, DG_MIX_3, DG_MIX_4, DG_MIX_5, DG_MIX_6, DG_MIX_7], C_GRAY)],
  },
  {
    key: "RdB", box: [48, 322, 266, 258], yMin: -0.1, yMax: 3, yTicks: [-0.1, 0, 1, 2, 3], hideLabels: [0],
    dTitle: 33, eTitle: 25,
    legend: { dx: 169, dy: 25, step: 17, items: [["AgNPs", C_AG], ["RdB", "#e6089c"], ["RdB+NaBH4", "#f27fb6"], ["RdB+NaBH4+AgNPs", "#f7c3dc"]] },
    series: [{ pts: RDB_DYE, color: "#e6089c" }, { pts: RDB_NABH4, color: "#f27fb6" }, ...agnps(),
      ...mix([RDB_MIX_1, RDB_MIX_2, RDB_MIX_3, RDB_MIX_4, RDB_MIX_5], "#f7c3dc")],
  },
  {
    key: "MO", box: [388, 322, 256, 250], yMin: -0.1, yMax: 3, yTicks: [-0.1, 0, 1, 2, 3], hideLabels: [0],
    dTitle: 36, eTitle: 24,
    legend: { dx: 140, dy: 13, step: 19, items: [["AgNPs", C_AG], ["MO", "#ff7b22"], ["MO+NaBH4", "#fba26a"], ["MO+NaBH4+AgNPs", C_TAN]] },
    series: [{ pts: MO_DYE, color: "#ff7b22" }, { pts: MO_NABH4, color: "#fba26a" }, ...agnps(),
      ...mix([MO_MIX_1, MO_MIX_2, MO_MIX_3, MO_MIX_4, MO_MIX_5, MO_MIX_6, MO_MIX_7], C_TAN)],
  },
  {
    key: "ZY", box: [930, 315, 266, 259], yMin: 0, yMax: 3, yTicks: [0, 1, 2, 3], hideLabels: [],
    dTitle: 35, eTitle: 24,
    legend: { dx: 147, dy: 14, step: 20, items: [["AgNPs", C_AG], ["ZY", "#ee6a1f"], ["ZY+NaBH4", "#f9a67c"], ["ZY+NaBH4+AgNPs", C_TAN]] },
    series: [{ pts: ZY_DYE, color: "#ee6a1f" }, { pts: ZY_NABH4, color: "#f9a67c" }, ...agnps(),
      ...mix([ZY_MIX_1, ZY_MIX_2, ZY_MIX_4], C_TAN2), ...mix([ZY_MIX_3, ZY_MIX_5, ZY_MIX_6], C_TAN)],
  },
  {
    key: "ONP", box: [50, 625, 264, 257], yMin: -0.1, yMax: 3, yTicks: [-0.1, 0, 1, 2, 3], hideLabels: [0],
    dTitle: 35, eTitle: 28,
    legend: { dx: 77, dy: 27, step: 21, items: [["AgNPs", C_AG], ["ONP", "#ffe600"], ["ONP+NaBH4", "#fcefc2"], ["ONP+NaBH4+AgNPs", C_TAN]] },
    series: [{ pts: ONP_DYE, color: "#ffe600" }, { pts: ONP_NABH4, color: "#fcefc2" }, ...agnps(),
      ...mix([ONP_MIX_1, ONP_MIX_2, ONP_MIX_3, ONP_MIX_4], C_TAN)],
  },
  {
    key: "PNP", box: [386, 625, 260, 253], yMin: -0.2, yMax: 3, yTicks: [-0.2, 0, 1, 2, 3], hideLabels: [],
    dTitle: 34, eTitle: 23,
    legend: { dx: 142, dy: 33, step: 20, items: [["AgNPs", C_AG], ["PNP", "#ffe600"], ["PNP+NaBH4", "#fcefcf"], ["PNP+NaBH4+AgNPs", C_GRAY]] },
    series: [{ pts: PNP_DYE, color: "#ffe600" }, { pts: PNP_NABH4, color: "#fcefcf" }, ...agnps(),
      ...mix([PNP_MIX_1, PNP_MIX_2, PNP_MIX_3, PNP_MIX_4, PNP_MIX_5, PNP_MIX_6, PNP_MIX_7, PNP_MIX_8], C_GRAY)],
  },
];

const SANS = '"Liberation Sans", Arial, Helvetica, sans-serif';
const SERIF = '"Liberation Serif", "Times New Roman", Times, serif';

function Panel({ spec }: { spec: PanelSpec }) {
  const ref = useRef<HTMLCanvasElement | null>(null);
  const [L, T, W, H] = spec.box;
  const yw = spec.dTitle + 7;
  const xh = spec.eTitle + 7;
  const padT = 10;
  const padR = 18;
  const cw = W + yw + padR;
  const ch = H + padT + xh;

  useEffect(() => {
    if (!ref.current) return;
    const framePlugin = {
      id: "plotFrame" + spec.key,
      afterDraw(chart: any) {
        const { ctx, chartArea: a, scales } = chart;
        ctx.save();
        ctx.strokeStyle = "#a0a0a0";
        ctx.lineWidth = 1;
        ctx.strokeRect(a.left + 0.5, a.top + 0.5, a.right - a.left - 1, a.bottom - a.top - 1);
        ctx.strokeStyle = "#777";
        scales.y.ticks.forEach((t: any) => {
          const y = Math.round(scales.y.getPixelForValue(t.value)) + 0.5;
          ctx.beginPath();
          ctx.moveTo(a.right, y);
          ctx.lineTo(a.right + 3, y);
          ctx.stroke();
        });
        scales.x.ticks.forEach((t: any) => {
          const x = Math.round(scales.x.getPixelForValue(t.value)) + 0.5;
          ctx.beginPath();
          ctx.moveTo(x, a.top);
          ctx.lineTo(x, a.top - 3);
          ctx.stroke();
        });
        ctx.restore();
      },
    };
    const legendPlugin = {
      id: "inlineLegend" + spec.key,
      afterDatasetsDraw(chart: any) {
        const { ctx, chartArea: a } = chart;
        const lg = spec.legend;
        ctx.save();
        ctx.font = "9px " + SANS;
        ctx.textBaseline = "middle";
        lg.items.forEach(([label, color], i) => {
          const x = a.left + lg.dx;
          const y = a.top + lg.dy + i * lg.step;
          ctx.fillStyle = color;
          ctx.fillText("_", x, y);
          ctx.fillText(label, x + 9, y);
        });
        ctx.restore();
      },
    };
    const chart = new Chart(ref.current, {
      type: "line",
      data: {
        datasets: spec.series.map((s) => ({
          data: s.pts.map(([x, y]) => ({ x, y })),
          borderColor: s.color,
          backgroundColor: s.color,
          borderWidth: 2.3,
          pointRadius: 0,
          fill: false,
          cubicInterpolationMode: "monotone" as const,
        })),
      },
      options: {
        animation: false,
        responsive: false,
        devicePixelRatio: 1,
        events: [],
        layout: { padding: { top: padT, right: padR, left: 0, bottom: 0 } },
        plugins: { legend: { display: false }, tooltip: { enabled: false } },
        scales: {
          x: {
            type: "linear",
            min: 200,
            max: 800,
            afterBuildTicks: (s: any) => {
              s.ticks = X_TICKS.map((v) => ({ value: v }));
            },
            afterFit: (s: any) => {
              s.height = xh;
            },
            ticks: {
              autoSkip: false,
              maxRotation: 0,
              padding: 1,
              color: "#2a2a2a",
              font: { family: SANS, size: 9, weight: "bold" },
              callback: (v: any) => Number(v).toFixed(2),
            },
            grid: { display: true, drawOnChartArea: false, drawTicks: true, tickLength: 3, color: "#777" },
            border: { display: true, color: "#a0a0a0" },
            title: { display: true, text: "Wavelength (nm)", color: "#111", padding: 0, font: { family: SERIF, size: 12, weight: "bold" } },
          },
          y: {
            type: "linear",
            min: spec.yMin,
            max: spec.yMax,
            afterBuildTicks: (s: any) => {
              s.ticks = spec.yTicks.map((v) => ({ value: v }));
            },
            afterFit: (s: any) => {
              s.width = yw;
            },
            ticks: {
              autoSkip: false,
              padding: 1,
              color: "#2a2a2a",
              font: { family: SANS, size: 9, weight: "bold" },
              callback: (v: any) => (spec.hideLabels.includes(Number(v)) ? "" : Number(v).toFixed(3)),
            },
            grid: { display: true, drawOnChartArea: false, drawTicks: true, tickLength: 3, color: "#777" },
            border: { display: true, color: "#a0a0a0" },
            title: { display: true, text: "Absorbance", color: "#111", padding: 0, font: { family: SERIF, size: 11.5, weight: "bold" } },
          },
        },
      } as any,
      plugins: [framePlugin, legendPlugin],
    });
    return () => chart.destroy();
  }, []);

  return (
    <canvas
      ref={ref}
      width={cw}
      height={ch}
      style={{ position: "absolute", left: L - yw, top: T - padT, width: cw, height: ch }}
    />
  );
}

export default function App() {
  const lineStyle: React.CSSProperties = {
    width: 666,
    height: 27.8,
    lineHeight: "27.8px",
    whiteSpace: "nowrap",
    textAlign: "justify",
    textAlignLast: "justify",
  };
  return (
    <div style={{ position: "absolute", left: 0, top: 0, width: 1375, height: 915, overflow: "hidden", background: "#fff" }}>
      {PANELS.map((p) => (
        <Panel key={p.key} spec={p} />
      ))}
      <div
        style={{
          position: "absolute",
          left: 880,
          top: 626,
          width: 340,
          textAlign: "center",
          fontFamily: SERIF,
          fontSize: 19.5,
          lineHeight: "24px",
          color: "#111",
        }}
      >
        <b>Fig. 9</b> (<i>continued</i>)
      </div>
      <div
        style={{
          position: "absolute",
          left: 716,
          top: 715,
          width: 666,
          fontFamily: SERIF,
          fontSize: 24,
          color: "#1a1a1a",
        }}
      >
        {TEXT_LINES.map((t, i) => (
          <div key={i} style={lineStyle}>
            {t}
          </div>
        ))}
        <div style={lineStyle}>
          {LAST_LINE_A}
          <span style={{ display: "inline-block", position: "relative", width: "0.5em" }}>
            {"\u00a0"}
            <span style={{ position: "absolute", left: 1, top: 14, fontSize: 14, lineHeight: "14px" }}>4</span>
            <span style={{ position: "absolute", left: 1, top: -1, fontSize: 14, lineHeight: "14px" }}>{"\u2212"}</span>
          </span>
          {LAST_LINE_B}
        </div>
      </div>
    </div>
  );
}
